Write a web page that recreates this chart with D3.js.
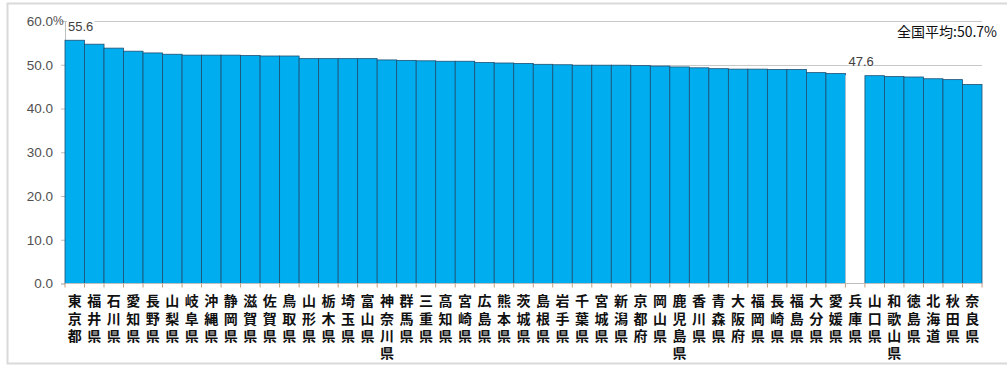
<!DOCTYPE html>
<html><head><meta charset="utf-8">
<script src="https://cdn.jsdelivr.net/npm/d3@7"></script>
<style>body{margin:0;background:#fff}svg{display:block}
.vlab{writing-mode:vertical-rl;text-orientation:upright;}</style>
</head><body>
<svg id="c" width="1007" height="367"></svg>
<script>
const categories = ["東京都","福井県","石川県","愛知県","長野県","山梨県","岐阜県","沖縄県","静岡県","滋賀県","佐賀県","鳥取県","山形県","栃木県","埼玉県","富山県","神奈川県","群馬県","三重県","高知県","宮崎県","広島県","熊本県","茨城県","島根県","岩手県","千葉県","宮城県","新潟県","京都府","岡山県","鹿児島県","香川県","青森県","大阪府","福岡県","長崎県","福島県","大分県","愛媛県","兵庫県","山口県","和歌山県","徳島県","北海道","秋田県","奈良県"];
const values = [55.6,54.7,53.8,53.1,52.7,52.4,52.2,52.2,52.2,52.1,52.0,52.0,51.4,51.4,51.4,51.4,51.1,51.0,50.9,50.8,50.8,50.5,50.4,50.3,50.1,50.0,49.9,49.9,49.9,49.8,49.7,49.5,49.3,49.1,49.0,49.0,48.9,48.9,48.2,48.0,47.6,47.5,47.3,47.2,46.8,46.6,45.5];
const yTicks = [0,10,20,30,40,50,60];
const labeledCategories = ["東京都","兵庫県"];
const highlightCategory = "兵庫県";
const averageText = "全国平均:50.7%";

const svg = d3.select("#c");
const x = d3.scaleBand().domain(categories).range([65, 982]).padding(0);
const y = d3.scaleLinear().domain([0, 60]).range([283.5, 21]);

// frame
svg.append("rect").attr("x",7.5).attr("y",3.5).attr("width",1010).attr("height",360)
  .attr("fill","none").attr("stroke","#d9d9d9").attr("stroke-width",2);

// gridlines
svg.append("g").selectAll("line").data(yTicks.filter(d=>d>0)).join("line")
  .attr("x1",65).attr("x2",982).attr("y1",d=>Math.round(y(d))+0.5).attr("y2",d=>Math.round(y(d))+0.5)
  .attr("stroke","#c8c8c8").attr("stroke-width",1);

// y axis
const yAxis = svg.append("g").attr("transform","translate(65,0)")
  .call(d3.axisLeft(y).tickValues(yTicks).tickFormat(d3.format(".1f")).tickSize(4).tickPadding(8));
yAxis.select(".domain").attr("stroke","#bfbfbf");
yAxis.selectAll(".tick line").attr("stroke","#bfbfbf");
yAxis.selectAll(".tick text").attr("font-family","Liberation Sans, Arial, sans-serif")
  .attr("font-size",13.5).attr("fill","#505050");
// % after top label
svg.append("text").attr("x",53).attr("y",y(60)).attr("dy","0.32em")
  .attr("font-family","Liberation Sans, Arial, sans-serif").attr("font-size",12).attr("fill","#505050").text("%");

// bars
svg.append("g").selectAll("rect").data(categories).join("rect")
  .attr("x",d=>x(d)).attr("width",x.bandwidth())
  .attr("y",(d,i)=>y(values[i])).attr("height",(d,i)=>y(0)-y(values[i]))
  .attr("fill",d=>d===highlightCategory?"#ffffff":"#00aeef")
  .attr("stroke",d=>d===highlightCategory?"none":"#1d4f73").attr("stroke-width",0.8);

// x axis
const xAxis = svg.append("g").attr("transform",`translate(0,${y(0)})`);
xAxis.append("line").attr("x1",65).attr("x2",982).attr("y1",0).attr("y2",0).attr("stroke","#bfbfbf");
xAxis.selectAll("line.tk").data(categories.concat(["_end"])).join("line").attr("class","tk")
  .attr("x1",(d,i)=>i<categories.length?x(d):x.range()[1]).attr("x2",(d,i)=>i<categories.length?x(d):x.range()[1])
  .attr("y1",0).attr("y2",4).attr("stroke","#c0a080");

// category labels (vertical text, one per category)
svg.append("g").selectAll("text").data(categories).join("text")
  .attr("class","vlab")
  .attr("x",d=>x(d)+x.bandwidth()/2).attr("y",294)
  .attr("font-family","Noto Sans CJK JP, sans-serif")
  .attr("font-size",14).attr("font-weight",700).attr("fill","#111")
  .style("letter-spacing","3.2px")
  .text(d=>d);

// data labels
labeledCategories.forEach(c=>{
  const i = categories.indexOf(c);
  const g = svg.append("g");
  const t = g.append("text").attr("y",y(values[i])-9)
    .attr("font-family","Liberation Sans, Arial, sans-serif").attr("font-size",13).attr("fill","#404040")
    .attr("text-anchor","start").text(d3.format(".1f")(values[i]));
  const w = t.node().getComputedTextLength();
  let lx = x(c)+x.bandwidth()/2 - w/2;
  if (lx < x(c)+3) lx = x(c)+3;
  t.attr("x",lx);
  g.insert("rect","text").attr("x",lx-1).attr("y",y(values[i])-21).attr("width",w+2).attr("height",11).attr("fill","#fff");
});

// average text
svg.append("text").attr("x",997).attr("y",37).attr("text-anchor","end")
  .attr("font-family","Noto Sans CJK JP, sans-serif").attr("font-size",14).attr("fill","#111").text(averageText);
</script>
</body></html>
